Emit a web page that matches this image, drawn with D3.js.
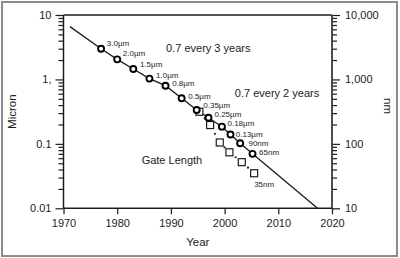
<!DOCTYPE html>
<html>
<head>
<meta charset="utf-8">
<script src="https://cdn.jsdelivr.net/npm/d3@7"></script>
<style>
  html, body { margin: 0; padding: 0; background: #fff; }
  svg { display: block; font-family: "Liberation Sans", Arial, Helvetica, sans-serif; }
</style>
</head>
<body>
<svg id="chart" width="400" height="258"></svg>
<script>
// ---- data ----
const nodeYears  = [1977, 1980, 1983, 1986, 1989, 1992, 1994.8, 1997, 1999.5, 2001.1, 2002.9, 2005.2];
const nodeValues = [3.0, 2.05, 1.45, 1.03, 0.8, 0.51, 0.335, 0.254, 0.185, 0.14, 0.102, 0.07];
const nodeLabels = ["3.0\u00b5m", "2.0\u00b5m", "1.5\u00b5m", "1.0\u00b5m", "0.8\u00b5m", "0.5\u00b5m",
                    "0.35\u00b5m", "0.25\u00b5m", "0.18\u00b5m", "0.13\u00b5m", "90nm", "65nm"];
const gateYears  = [1995.3, 1997.3, 1999.1, 2000.9, 2003.2, 2005.5];
const gateValues = [0.315, 0.196, 0.105, 0.074, 0.052, 0.035];
const gateLabel  = "35nm";
const trendStart = [1971.2, 6.6];
const trendEnd   = [2017.3, 0.01];
const xTicks = [1970, 1980, 1990, 2000, 2010, 2020];
const yLeftTicks = [10, 1, 0.1, 0.01];
const yLeftTickLabels = ["10", "1,", "0.1", "0.01"];
const yRightTicks = [10000, 1000, 100, 10];
const yRightTickLabels = ["10,000", "1,000", "100", "10"];
const annotations = [
  { text: "0.7 every 3 years", year: 1989.1, value: 3.04 },
  { text: "0.7 every 2 years", year: 2001.9, value: 0.61 },
  { text: "Gate Length", year: 1984.55, value: 0.056 }
];

// ---- layout ----
const svg = d3.select("#chart");
const L = 63.5, R = 332, T = 15, B = 208.3;
const ink = "#1c1c1c";

const x = d3.scaleLinear().domain([1970, 2020]).range([L, R]);
const y = d3.scaleLog().domain([0.01, 10]).range([B, T]);
const y2 = d3.scaleLog().domain([10, 10000]).range([B, T]);

// outer frame
svg.append("rect").attr("x", 2).attr("y", 2).attr("width", 395).attr("height", 254)
  .attr("fill", "none").attr("stroke", "#8c8c8c").attr("stroke-width", 2);

// minor ticks helper
function minorTicks(scale) {
  const out = [];
  const [a, b] = scale.domain();
  for (let p = Math.log10(a); p < Math.log10(b); p++) {
    for (let k = 2; k <= 9; k++) out.push(k * Math.pow(10, p));
  }
  return out;
}

function styleAxis(g) {
  g.select(".domain").remove();
  g.selectAll("line").attr("stroke", ink).attr("stroke-width", 1.2);
  g.selectAll("text").attr("fill", ink).attr("font-size", 11);
}

// left axis minor
svg.append("g").attr("transform", `translate(${L},0)`)
  .call(d3.axisLeft(y).tickValues(minorTicks(y)).tickSize(5).tickFormat(""))
  .call(styleAxis);
// left axis major
svg.append("g").attr("transform", `translate(${L},0)`)
  .call(d3.axisLeft(y).tickValues(yLeftTicks).tickSize(8).tickPadding(4)
    .tickFormat((d, i) => yLeftTickLabels[i]))
  .call(styleAxis);

// right axis minor
svg.append("g").attr("transform", `translate(${R},0)`)
  .call(d3.axisRight(y2).tickValues(minorTicks(y2)).tickSize(5).tickFormat(""))
  .call(styleAxis);
// right axis major
svg.append("g").attr("transform", `translate(${R},0)`)
  .call(d3.axisRight(y2).tickValues(yRightTicks).tickSize(8).tickPadding(5)
    .tickFormat((d, i) => yRightTickLabels[i]))
  .call(styleAxis);

// bottom axis
svg.append("g").attr("transform", `translate(0,${B})`)
  .call(d3.axisBottom(x).tickValues(xTicks).tickSize(6).tickPadding(5).tickFormat(d3.format("d")))
  .call(styleAxis);

// plot frame lines
svg.append("line").attr("x1", L).attr("x2", R).attr("y1", T).attr("y2", T)
  .attr("stroke", ink).attr("stroke-width", 1.5);
svg.append("line").attr("x1", L).attr("x2", R).attr("y1", B).attr("y2", B)
  .attr("stroke", ink).attr("stroke-width", 1.5);
svg.append("line").attr("x1", L).attr("x2", L).attr("y1", T).attr("y2", B)
  .attr("stroke", ink).attr("stroke-width", 1.5);
svg.append("line").attr("x1", R).attr("x2", R).attr("y1", T).attr("y2", B)
  .attr("stroke", "#3a3a3a").attr("stroke-width", 1.8);

// axis titles
svg.append("text").attr("transform", `translate(16,${(T + B) / 2}) rotate(-90)`)
  .attr("text-anchor", "middle").attr("font-size", 11.5).attr("fill", ink).text("Micron");
svg.append("text").attr("transform", `translate(384,106) rotate(90)`)
  .attr("text-anchor", "middle").attr("font-size", 11.5).attr("fill", ink).text("nm");
svg.append("text").attr("x", (L + R) / 2).attr("y", 245.5)
  .attr("text-anchor", "middle").attr("font-size", 11.5).attr("fill", ink).text("Year");

// trend line through nodes
const trend = [trendStart].concat(nodeYears.map((yr, i) => [yr, nodeValues[i]])).concat([trendEnd]);
svg.append("path").datum(trend)
  .attr("d", d3.line().x(d => x(d[0])).y(d => y(d[1])))
  .attr("fill", "none").attr("stroke", ink).attr("stroke-width", 1.3);

// gate length dots (between squares)
const gatePts = gateYears.map((yr, i) => [x(yr), y(gateValues[i])]);
const mids = d3.pairs(gatePts).map(([a, b]) => [(a[0] + b[0]) / 2, (a[1] + b[1]) / 2]);
svg.append("g").selectAll("circle").data(mids).join("circle")
  .attr("cx", d => d[0]).attr("cy", d => d[1]).attr("r", 1.1).attr("fill", ink);

// gate squares
const sq = 7;
svg.append("g").selectAll("rect").data(gatePts).join("rect")
  .attr("x", d => d[0] - sq / 2).attr("y", d => d[1] - sq / 2)
  .attr("width", sq).attr("height", sq)
  .attr("fill", "#fff").attr("stroke", ink).attr("stroke-width", 1.2);

// node circles
svg.append("g").selectAll("circle").data(nodeYears).join("circle")
  .attr("cx", d => x(d)).attr("cy", (d, i) => y(nodeValues[i]))
  .attr("r", 3).attr("fill", "#fff").attr("stroke", "#000").attr("stroke-width", 1.9);

// node labels
const labelDy = [-5, -6, -4.7, -3.3, -2.4, -2.3, -5, -3.4, -3, -0.6, 0, -1.7];
const labelDx = [5.7, 5.6, 6.6, 6.7, 6.6, 6.6, 6.6, 6, 5.6, 5.3, 8.3, 6.6];
svg.append("g").selectAll("text").data(nodeLabels).join("text")
  .attr("x", (d, i) => x(nodeYears[i]) + labelDx[i])
  .attr("y", (d, i) => y(nodeValues[i]) + labelDy[i])
  .attr("dy", "0.35em").attr("font-size", 8).attr("fill", ink).text(d => d);

// gate label
const last = gatePts[gatePts.length - 1];
svg.append("text").attr("x", last[0]).attr("y", last[1] + 10.5).attr("dy", "0.35em")
  .attr("font-size", 8).attr("fill", ink).text(gateLabel);

// annotations
svg.append("g").selectAll("text").data(annotations).join("text")
  .attr("x", d => x(d.year)).attr("y", d => y(d.value)).attr("dy", "0.35em")
  .attr("font-size", 11).attr("fill", ink).text(d => d.text);
</script>
</body>
</html>
